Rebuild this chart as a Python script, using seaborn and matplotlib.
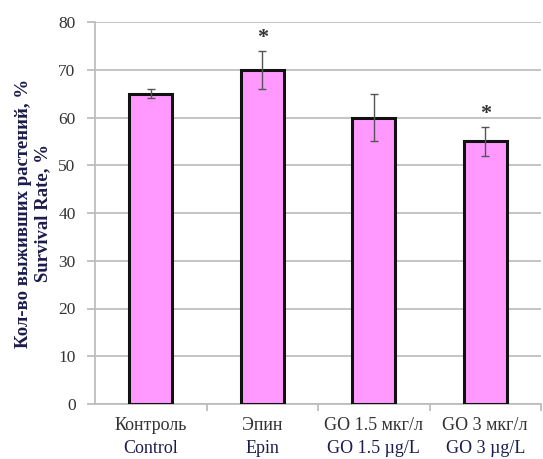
import matplotlib
matplotlib.use("Agg")
import matplotlib.pyplot as plt
import matplotlib.transforms as mtransforms
import seaborn as sns
import pandas as pd

# Survival rate per treatment group
groups_ru = ["Контроль", "Эпин", "GO 1.5 мкг/л", "GO 3 мкг/л"]
groups_en = ["Control", "Epin", "GO 1.5 µg/L", "GO 3 µg/L"]
survival = [65, 70, 60, 55]
errors = [1, 4, 5, 3]
significant = [False, True, False, True]
y_ticks = [0, 10, 20, 30, 40, 50, 60, 70, 80]

sns.set_theme(style="white")
plt.rcParams["font.family"] = ["Liberation Serif", "DejaVu Serif"]

df = pd.DataFrame({"group": groups_ru, "survival": survival})

fig = plt.figure(figsize=(5.43, 4.59), dpi=100)
ax = fig.add_axes([95 / 543, 55 / 459, (541 - 95) / 543, (437 - 55) / 459])

sns.barplot(data=df, x="group", y="survival", ax=ax, color="#ff99ff",
            width=0.39, edgecolor="#111111", linewidth=2.2, errorbar=None,
            saturation=1, zorder=3)
ax.errorbar(range(len(survival)), survival, yerr=errors, fmt="none",
            ecolor="#555555", elinewidth=1.0, capsize=3, capthick=1.0, zorder=4)

for i, (v, e, s) in enumerate(zip(survival, errors, significant)):
    if s:
        ax.annotate("*", (i, v + e), xytext=(0, 2), textcoords="offset points",
                    ha="center", va="bottom", fontsize=16, fontweight="bold",
                    color="#333333", zorder=5)

ax.set_xlim(-0.5, len(survival) - 0.5)
ax.set_ylim(0, 80)
ax.set_yticks(y_ticks)
ax.yaxis.grid(True, color="#bfbfbf", linewidth=1.3, zorder=0)
ax.set_axisbelow(True)
for side in ["top", "right"]:
    ax.spines[side].set_visible(False)
for side in ["left", "bottom"]:
    ax.spines[side].set_color("#bdbdbd")
    ax.spines[side].set_linewidth(1.3)

ax.tick_params(axis="y", which="both", left=True, length=6, width=1.3,
               color="#bdbdbd", labelsize=12.5, labelcolor="#333333", pad=8)
ax.set_xticks([])
ax.set_xticks([0.5, 1.5, 2.5, 3.5], minor=True)
ax.tick_params(axis="x", which="minor", bottom=True, length=5, width=1.3,
               color="#bdbdbd")

trans = mtransforms.blended_transform_factory(ax.transData, ax.transAxes)
for i, (ru, en) in enumerate(zip(groups_ru, groups_en)):
    ax.text(i, -0.057, ru, transform=trans, ha="center", va="center",
            fontsize=13, color="#333333")
    ax.text(i, -0.117, en, transform=trans, ha="center", va="center",
            fontsize=13, color="#1c1c50")

ax.set_xlabel("")
ax.set_ylabel("Кол-во выживших растений, %\nSurvival Rate, %", fontsize=13.5,
              fontweight="bold", color="#1c1c4c", labelpad=5, linespacing=1.2)

fig.savefig("out.png", dpi=100)
